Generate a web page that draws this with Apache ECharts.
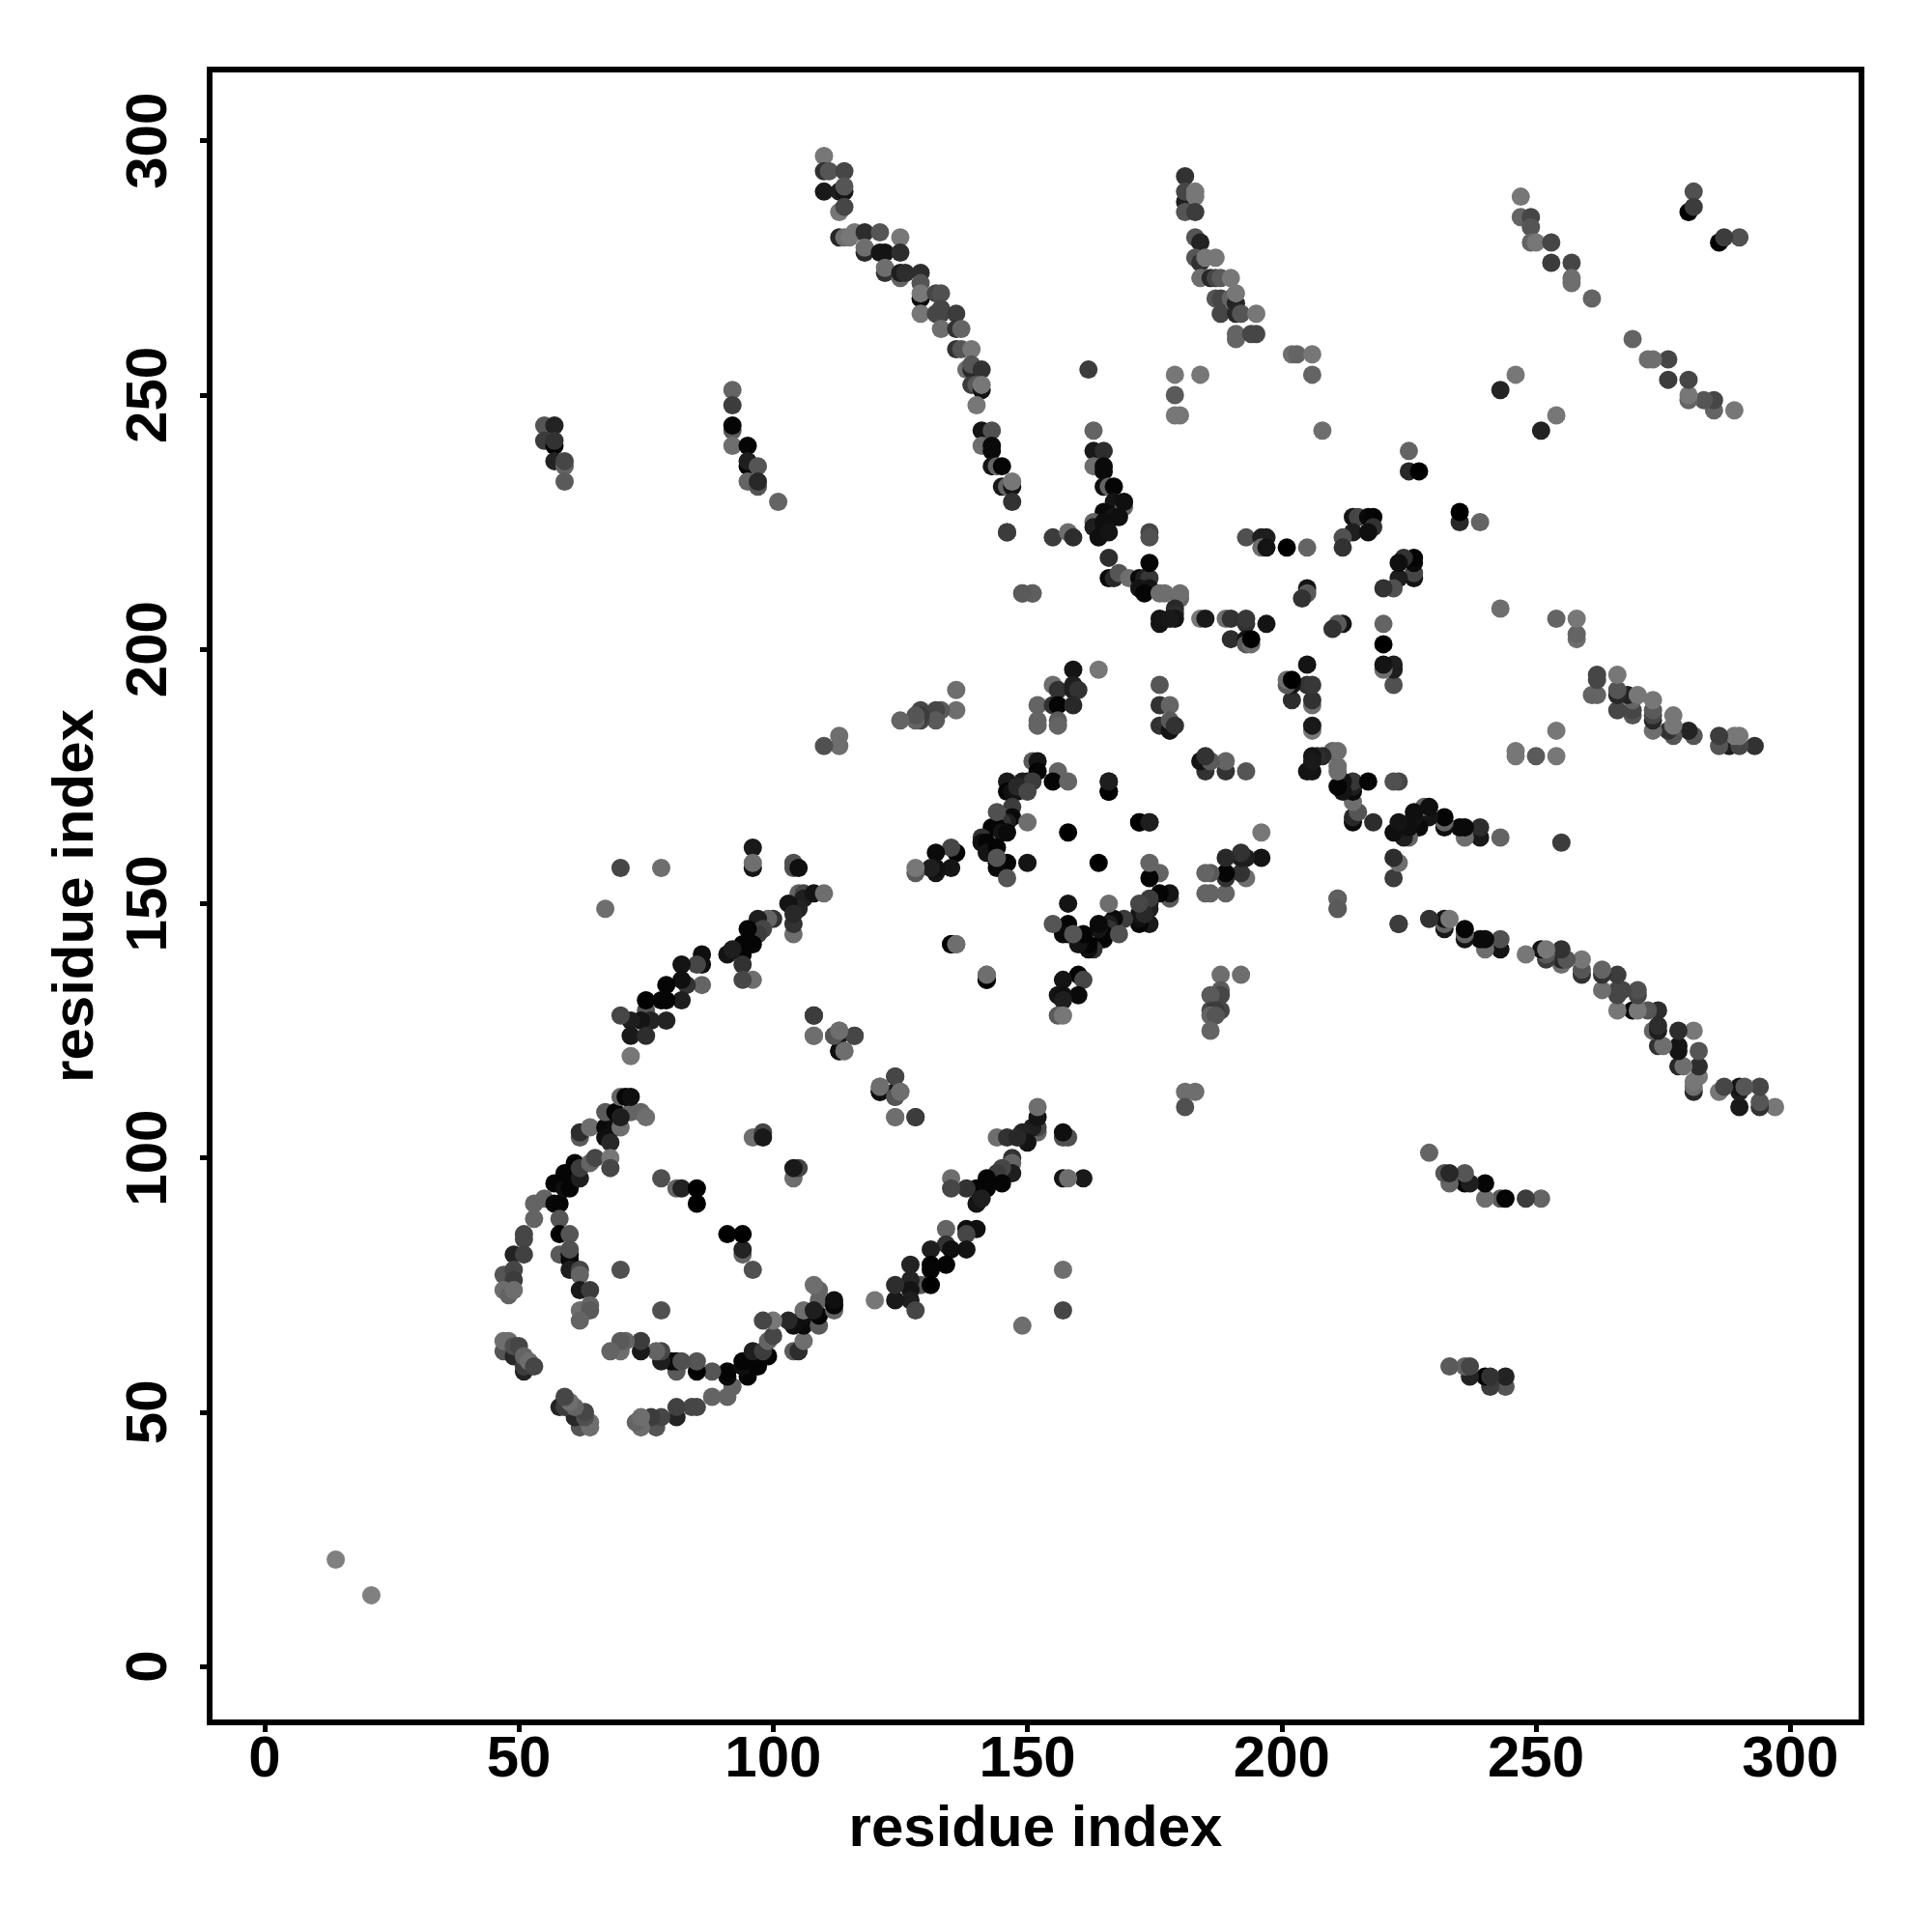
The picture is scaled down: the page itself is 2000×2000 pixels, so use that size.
<!DOCTYPE html>
<html>
<head>
<meta charset="utf-8">
<script src="https://cdn.jsdelivr.net/npm/echarts@6/dist/echarts.min.js"></script>
<style>html,body{margin:0;padding:0;background:#fff}#c{width:2000px;height:2000px}</style>
</head>
<body>
<div id="c"></div>
<script>
// Contacts as [i, j, grey level], i < j. The contact map is symmetric,
// so every contact is drawn at (i,j) and at (j,i).
const tickValues = [0, 50, 100, 150, 200, 250, 300];
const axisTitle = 'residue index';

const farPair = [[14,21,128]];
const arcTop = [[110,297,119],[110,294,50],[111,294,85],[114,294,70],[110,290,25],[113,290,30],[114,290,20],[114,291,85],[113,286,119],[114,287,70],
[113,281,40],[114,281,110],[115,281,119],[116,282,119],[118,282,45],[121,282,85],[125,281,120],[118,278,40],[118,279,110],[121,278,20],[122,278,20],[125,278,45],[122,274,50],[122,275,110],[125,273,100],[125,274,30],[126,274,45],[129,274,45],[129,269,10],[129,272,85],[129,270,120],[129,266,119],[132,270,70],[133,270,80],[132,266,70],[133,266,70],[133,267,70],[136,266,60],[133,263,110],[136,263,50],[137,263,100],[136,259,50],[137,259,85],[139,259,119],[138,255,110],[139,255,40],[139,256,85],[141,255,50],[139,252,60],[140,252,90],[141,251,20],[141,252,119],[140,248,119],[141,243,20],[143,243,80],[141,240,110],[143,240,10],[143,239,10],[143,236,20],[144,236,100],[145,236,5],[145,232,25],[146,232,100],[147,232,20],[147,233,119],[147,229,50]];
const arcMiddle = [[162,255,60],[163,243,100],[163,239,25],[165,239,45],[163,236,110],[165,236,10],[165,235,10],[165,232,15],[166,232,100],[167,232,5],[167,229,20],[169,228,100],[169,229,15],[165,227,10],[167,226,20],[168,226,15],[163,225,100],[163,224,30],[165,225,15],[165,223,15],[164,222,15],[166,223,20],
[146,223,60],[155,222,60],[158,223,110],[159,222,45],[174,223,70],[174,222,80],
[166,218,45],[166,214,10],[167,214,40],[168,215,85],[170,214,110],[172,214,10],[173,214,30],[174,214,55],[174,217,5],[174,212,20],[172,212,20],[173,211,5],
[149,211,100],[151,211,100],[176,211,110],[177,211,110],[180,210,100],[180,211,110],[179,208,40],[179,207,45],[179,206,20],[176,205,20],[176,206,20],[178,206,25],[184,206,119],[185,206,25],[189,206,110],[190,206,50],[193,205,50],[193,206,55],[197,205,20],[190,202,45],[193,202,20],[193,201,90],[194,201,110],[194,202,0]];
const upperRight = [[179,254,119],[184,254,119],[179,250,90],[179,246,119],[180,246,119],
[181,293,50],[181,288,30],[181,290,70],[183,290,119],[183,289,119],[181,286,85],[183,286,60],[183,281,85],[184,280,35],[183,277,85],[184,276,50],[185,277,119],[187,277,119],[184,273,110],[186,273,40],[187,273,70],[188,273,90],[190,273,119],[187,269,85],[188,269,70],[190,269,100],[191,268,35],[191,270,119],[188,266,70],[191,266,40],[192,266,85],[195,266,119],[191,262,100],[191,261,100],[194,262,70],[195,262,70],[202,258,110],[203,258,100],[206,258,119],[206,254,100],
[247,289,119],[247,285,100],[249,285,70],[249,283,85],[249,280,100],[250,280,119],[253,280,70],[253,276,60],[257,276,70],[257,273,110],[257,272,110],[261,269,100],[281,290,80],[280,286,0],[281,287,60],
[208,243,110],[243,251,35],[246,254,119],[225,239,100],[225,235,40],[227,235,0]];
const nearDiagonal = [[193,222,80],[196,222,30],[197,222,30],[196,220,110],[197,220,20],[201,220,0],[205,220,100],[214,226,20],[215,226,70],[217,226,10],[218,226,5],[218,224,50],[214,223,30],[217,223,15],[212,222,80],[212,220,50],[205,212,20],[205,211,90],[204,210,50],
[159,196,20],[164,196,119],[155,193,110],[156,192,50],[159,192,30],[159,193,30],[160,192,50],[152,189,100],[155,189,50],[156,189,5],[159,189,40],[152,186,100],[152,185,100],[156,186,90],[156,185,100],
[176,193,85],[176,189,50],[178,189,100],[176,185,50],[178,184,20],[178,186,90],[179,185,50]];
const centreRing = [[151,178,90],[152,178,20],[152,176,5],[156,176,100],[155,174,5],[158,174,100],[149,174,30],[150,173,60],[150,174,30],[151,174,60],[146,174,25],[146,172,5],[147,172,15],[148,172,20],[148,173,40],[150,172,70],[147,169,60],[145,167,100],[147,167,10],[146,166,30],[145,166,50],[144,165,5],[143,165,5],[145,164,20],[146,164,10],[144,168,80],[141,163,50],[141,162,15],[142,162,5],[142,160,20],[144,161,5],[144,158,15],[146,158,5],[144,157,10],[144,159,85],[146,155,85],[150,166,110],[150,158,20],[158,164,0],[166,172,0],[166,174,25],[172,166,0],[174,166,30],
[136,160,5],[135,161,70],[132,160,10],[135,157,20],[132,156,20],[132,157,15],[131,157,30],[128,156,90],[128,157,119],[135,142,0],[136,142,110],[142,135,0],[142,136,110],
[136,192,110],[136,188,110],[133,188,90],[132,188,70],[132,186,90],[129,188,70],[129,186,70],[129,187,60],[128,186,100],[128,187,85],[125,186,100],[113,183,110],[113,181,110],[110,181,80],[151,211,95],[149,211,90],[146,223,60]];
const leftColumns = [[55,244,85],[57,244,35],[55,241,60],[57,240,0],[57,241,50],[57,237,35],[59,236,100],[59,237,70],[59,233,90],
[92,251,100],[92,248,60],[92,243,90],[92,244,5],[92,240,110],[95,240,5],[95,236,5],[95,237,30],[97,236,85],[95,233,100],[97,232,85],[97,233,40],[101,229,100]];
const longStrand = [[70,157,70],[78,157,110],[67,149,110],[96,161,25],[96,157,20],[96,158,110],[104,158,80],[104,157,80],[105,157,15],
[105,152,100],[106,152,70],[106,151,30],[108,152,20],[110,152,110],[105,149,35],[103,150,20],[104,144,110],[104,146,50],[104,148,40],[100,147,50],[99,147,100],[97,147,30],[98,145,70],[97,144,60],[95,145,5],[96,142,5],[94,142,5],[94,140,5],[91,140,20],[92,141,30],[94,138,50],[96,135,110],[94,135,70],
[86,140,15],[86,138,15],[85,138,70],[86,134,100],[82,138,20],[83,134,50],[82,135,15],[79,134,5],[82,131,30],[79,131,5],[78,131,5],[75,129,85],[75,131,0],[79,127,35],[76,127,35],[74,127,20],[72,127,30],[70,128,70],[72,124,25],[75,124,45],[72,120,119],
[108,128,50],[108,124,100],[112,124,100],[113,124,25],[113,125,110],[116,124,65],[113,121,5],[114,121,100],[121,113,15],[121,114,110],[124,116,70],[124,112,85],[125,113,110],[124,108,110],[128,108,60]];
const lowerRing = [[53,88,100],[53,91,100],[55,92,100],[51,85,70],[51,84,70],[49,81,35],[51,81,65],[47,77,85],[49,78,70],[49,76,60],[47,74,110],[48,73,100],[49,74,110],
[57,95,5],[57,91,10],[58,91,5],[59,94,15],[59,97,5],[60,94,5],[61,99,5],[62,96,30],[62,98,60],[64,99,100],[65,100,70],[58,88,85],[58,85,0],[60,85,85],[58,81,90],[60,80,5],[60,81,10],[60,82,80],[60,78,30],[62,78,70],[62,77,100],[62,74,25],[64,74,60],[62,70,110],[64,71,100],[64,70,90],[62,68,100],
[62,104,90],[62,105,45],[64,106,110],[67,106,10],[69,106,15],[70,106,110],[67,104,15],[68,103,40],[68,100,119],[68,98,70],[67,109,90],[69,109,5],[72,109,100],[74,109,100],[75,108,110],[70,108,30],[70,112,100],[71,112,5],[72,112,15],
[70,78,80],[78,96,80],[81,94,100],[82,94,35],[85,94,0],[85,91,0],[96,104,110],[98,105,70],[98,104,25],
[47,62,85],[47,64,110],[48,64,110],[49,61,40],[49,63,80],[50,63,70],[51,58,35],[51,59,60],[51,61,100],[52,60,110],[53,59,70]];

const contacts = [farPair, arcTop, arcMiddle, upperRight, nearDiagonal, centreRing, leftColumns, longStrand, lowerRing];
const points = [];
contacts.forEach(group => group.forEach(([i, j, g]) => {
  const color = `rgb(${g},${g},${g})`;
  points.push({ value: [i, j], itemStyle: { color, opacity: 1 } });
  points.push({ value: [j, i], itemStyle: { color, opacity: 1 } });
}));

const labelStyle = { fontFamily: '"Liberation Sans"', fontWeight: 'bold', fontSize: 60, color: '#000' };
const axisBase = {
  type: 'value', min: -10.8, max: 314,
  name: axisTitle, nameLocation: 'middle',
  nameTextStyle: labelStyle,
  axisLine: { show: false, onZero: false },
  axisTick: { show: true, length: 10, inside: false, customValues: tickValues, lineStyle: { color: '#000', width: 5 } },
  splitLine: { show: false }
};
const chart = echarts.init(document.getElementById('c'), null, { renderer: 'canvas', width: 2000, height: 2000 });
chart.setOption({
  animation: false,
  backgroundColor: '#fff',
  grid: { show: true, left: 217, top: 72, width: 1710, height: 1711, borderColor: '#000', borderWidth: 6, backgroundColor: '#fff' },
  xAxis: Object.assign({}, axisBase, {
    nameGap: 81,
    axisLabel: Object.assign({}, labelStyle, { margin: 9, customValues: tickValues, hideOverlap: false })
  }),
  yAxis: Object.assign({}, axisBase, {
    min: -11, max: 314,
    nameGap: 108,
    axisLabel: Object.assign({}, labelStyle, { rotate: 90, margin: 62, customValues: tickValues, hideOverlap: false, align: 'center', verticalAlign: 'middle' })
  }),
  series: [{ type: 'scatter', symbol: 'circle', symbolSize: 19, itemStyle: { opacity: 1 }, data: points, silent: true, clip: true }]
});
</script>
</body>
</html>
